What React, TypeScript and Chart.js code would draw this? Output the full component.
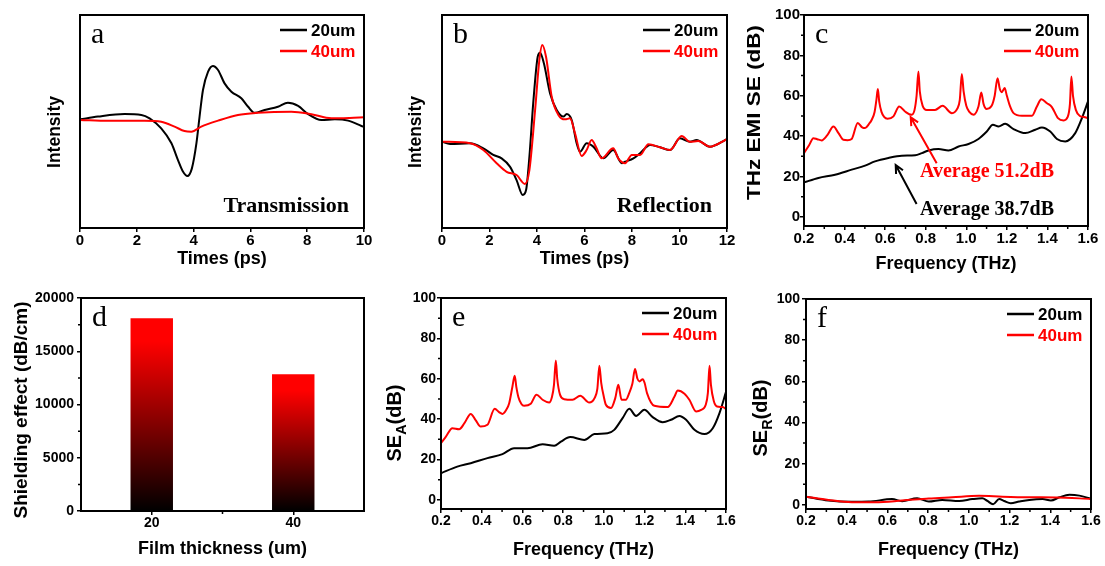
import React, { useEffect, useRef } from "react";
import { Chart, registerables } from "chart.js";

Chart.register(...registerables);

const SANS = '"Liberation Sans", Arial, Helvetica, sans-serif';
const SERIF = '"Liberation Serif", "Times New Roman", Times, serif';
const RED = "#ff0000";
const BLACK = "#000000";

const SERIES_LABELS = ["20um", "40um"];

// ---------- (a) Transmission, time-domain ----------
const A_T20 = [0, 0.63, 1.57, 2.16, 2.45, 2.86, 3.22, 3.45, 3.63, 3.78, 3.94, 4.1, 4.21, 4.33, 4.51, 4.68, 4.86, 5.09, 5.33, 5.68, 5.92, 6.15, 6.5, 6.97, 7.32, 7.68, 8.03, 8.5, 8.97, 9.44, 9.91, 10];
const A_I20 = [51.0, 52.3, 53.5, 53.1, 51.5, 46.8, 39.8, 31.9, 26.4, 24.4, 28.0, 39.8, 52.3, 64.8, 73.4, 76.1, 74.2, 67.9, 64.0, 60.9, 56.9, 54.1, 55.4, 56.9, 58.8, 57.3, 53.5, 50.7, 51.0, 50.4, 47.9, 47.4];
const A_T40 = [0, 1.0, 2.28, 2.86, 3.33, 3.68, 3.92, 4.27, 4.86, 5.56, 6.27, 7.44, 8.15, 8.85, 9.5, 10];
const A_I40 = [50.7, 50.3, 50.4, 49.9, 47.6, 45.5, 45.2, 47.6, 50.4, 53.1, 54.1, 54.6, 53.4, 51.5, 51.7, 52.0];

// ---------- (b) Reflection, time-domain ----------
const B_T20 = [0, 0.34, 1.18, 1.74, 2.16, 2.51, 2.86, 3.14, 3.4, 3.54, 3.68, 3.84, 4.03, 4.13, 4.29, 4.55, 4.83, 5.11, 5.25, 5.46, 5.67, 5.81, 6.09, 6.37, 6.79, 7.21, 7.57, 7.71, 8.06, 8.34, 8.76, 9.18, 9.6, 10.02, 10.44, 10.72, 11.28, 11.92, 12];
const B_I20 = [40.5, 39.4, 39.8, 37.4, 34.3, 32.7, 28.8, 22.5, 15.5, 17.8, 33.5, 58.5, 80.4, 82.3, 77.3, 63.2, 55.4, 52.3, 53.5, 50.7, 39.8, 35.8, 39.8, 38.2, 32.7, 36.6, 30.4, 31.1, 32.7, 35.1, 39.0, 37.9, 36.6, 42.1, 40.5, 41.3, 38.2, 41.3, 41.8];
const B_T40 = [0, 1.18, 1.74, 2.3, 2.72, 3.14, 3.49, 3.68, 3.92, 4.1, 4.22, 4.38, 4.62, 4.9, 5.18, 5.39, 5.6, 5.88, 6.09, 6.3, 6.51, 6.72, 7.21, 7.42, 7.71, 7.99, 8.34, 8.69, 9.18, 9.6, 10.09, 10.44, 10.79, 11.28, 11.92, 12];
const B_I40 = [40.5, 39.8, 36.6, 30.4, 26.4, 24.9, 20.7, 27.2, 55.4, 78.9, 85.9, 80.4, 61.6, 53.1, 51.0, 51.5, 44.5, 33.8, 36.6, 41.3, 37.4, 32.7, 37.4, 32.7, 30.4, 34.3, 34.3, 39.3, 37.9, 36.6, 43.2, 40.5, 40.8, 38.2, 41.3, 41.8];

// ---------- (c) THz EMI SE ----------
const C_F20 = [0.2, 0.271, 0.353, 0.435, 0.501, 0.55, 0.616, 0.682, 0.748, 0.781, 0.814, 0.863, 0.912, 0.962, 1.011, 1.06, 1.101, 1.131, 1.159, 1.192, 1.233, 1.291, 1.34, 1.373, 1.414, 1.447, 1.488, 1.537, 1.57, 1.6];
const C_SE20 = [17.1, 19.3, 20.9, 23.4, 25.4, 27.5, 29.2, 30.3, 30.5, 31.6, 32.9, 33.6, 32.9, 34.9, 36.1, 38.6, 42.3, 45.6, 44.8, 46.1, 43.5, 41.5, 43.2, 44.3, 42.3, 38.6, 37.4, 41.5, 48.9, 57.2];
const C_F40 = [0.2, 0.225, 0.246, 0.265, 0.287, 0.315, 0.345, 0.37, 0.394, 0.415, 0.435, 0.465, 0.485, 0.501, 0.52, 0.534, 0.548, 0.557, 0.564, 0.571, 0.582, 0.595, 0.612, 0.641, 0.669, 0.698, 0.731, 0.745, 0.755, 0.764, 0.771, 0.785, 0.805, 0.846, 0.883, 0.929, 0.955, 0.968, 0.978, 0.987, 1.0, 1.015, 1.036, 1.06, 1.074, 1.085, 1.1, 1.125, 1.14, 1.154, 1.165, 1.175, 1.189, 1.2, 1.215, 1.233, 1.274, 1.324, 1.348, 1.37, 1.398, 1.422, 1.452, 1.48, 1.5, 1.511, 1.518, 1.526, 1.54, 1.56, 1.58, 1.6];
const C_SE40 = [31.6, 35.5, 39.0, 38.5, 37.9, 40.5, 44.8, 41.5, 38.2, 38.0, 38.6, 46.5, 44.5, 44.0, 46.0, 48.1, 52.0, 58.0, 63.3, 57.0, 52.0, 49.5, 48.6, 49.8, 54.7, 52.2, 50.6, 53.0, 60.0, 72.0, 62.0, 55.0, 53.0, 53.0, 55.0, 51.4, 53.5, 58.0, 70.8, 62.0, 55.0, 52.0, 50.6, 54.7, 61.6, 56.0, 53.5, 55.0, 60.0, 68.7, 63.5, 61.8, 63.8, 60.0, 55.0, 51.4, 50.1, 50.1, 54.7, 58.3, 56.3, 54.4, 48.9, 47.8, 49.5, 56.0, 69.5, 60.0, 53.0, 50.0, 49.5, 48.9];
const C_NOTES = [
  { text: "Average 51.2dB", x: 0.772, y: 20, color: RED },
  { text: "Average 38.7dB", x: 0.772, y: 1, color: BLACK },
];
const C_ARROWS: { from: [number, number]; to: [number, number]; color: string }[] = [
  { from: [0.854, 26.6], to: [0.726, 49.4], color: RED },
  { from: [0.755, 6.4], to: [0.652, 25.7], color: BLACK },
];

// ---------- (d) Shielding effectiveness per thickness ----------
const D_THICKNESS = ["20", "40"];
const D_SHIELDING = [18100, 12850];

// ---------- (e) SE_A ----------
const E_F20 = [0.2, 0.28, 0.346, 0.428, 0.502, 0.559, 0.625, 0.699, 0.756, 0.789, 0.835, 0.904, 0.953, 1.018, 1.051, 1.092, 1.125, 1.158, 1.199, 1.24, 1.289, 1.33, 1.371, 1.404, 1.445, 1.494, 1.535, 1.568, 1.6];
const E_A20 = [13.2, 16.5, 18.2, 20.7, 22.7, 25.6, 25.6, 27.6, 26.8, 28.9, 31.1, 29.7, 32.6, 33.0, 34.7, 40.5, 45.1, 41.6, 44.6, 41.0, 38.5, 39.7, 41.6, 39.7, 34.7, 32.6, 35.5, 43.0, 53.5];
const E_F40 = [0.2, 0.225, 0.256, 0.289, 0.315, 0.346, 0.37, 0.395, 0.428, 0.464, 0.485, 0.502, 0.52, 0.535, 0.551, 0.562, 0.57, 0.58, 0.595, 0.608, 0.641, 0.669, 0.699, 0.731, 0.745, 0.755, 0.764, 0.771, 0.785, 0.805, 0.846, 0.884, 0.928, 0.955, 0.968, 0.978, 0.987, 1.0, 1.01, 1.035, 1.056, 1.071, 1.087, 1.108, 1.125, 1.14, 1.153, 1.165, 1.175, 1.191, 1.2, 1.212, 1.248, 1.314, 1.347, 1.363, 1.396, 1.42, 1.453, 1.478, 1.5, 1.511, 1.519, 1.526, 1.54, 1.556, 1.584, 1.6];
const E_A40 = [28.1, 31.5, 35.5, 35.0, 38.0, 42.6, 39.5, 36.3, 37.2, 45.1, 43.5, 42.6, 44.5, 47.9, 56.2, 61.5, 56.0, 51.0, 47.5, 46.6, 47.6, 52.1, 49.6, 48.2, 51.0, 57.0, 69.1, 60.0, 52.0, 49.9, 49.6, 51.6, 48.2, 50.5, 55.0, 66.4, 58.0, 51.0, 47.1, 45.5, 50.4, 57.0, 49.6, 49.6, 53.0, 57.5, 64.8, 60.0, 58.7, 59.8, 58.0, 52.9, 46.6, 46.0, 51.2, 54.2, 52.6, 49.6, 43.8, 44.6, 47.0, 53.0, 66.4, 57.0, 49.0, 46.3, 46.0, 45.0];

// ---------- (f) SE_R ----------
const F_F20 = [0.2, 0.31, 0.425, 0.508, 0.623, 0.672, 0.746, 0.803, 0.869, 0.952, 1.017, 1.066, 1.091, 1.119, 1.149, 1.173, 1.206, 1.247, 1.297, 1.362, 1.403, 1.445, 1.494, 1.543, 1.6];
const F_R20 = [4.0, 2.1, 1.5, 1.6, 2.8, 1.8, 3.2, 1.6, 2.4, 1.9, 2.8, 3.2, 1.9, 0.3, 2.8, 1.9, 0.8, 1.6, 2.4, 2.8, 2.1, 3.7, 4.9, 4.5, 3.0];
const F_F40 = [0.2, 0.31, 0.425, 0.54, 0.672, 0.803, 0.918, 1.05, 1.165, 1.297, 1.428, 1.6];
const F_R40 = [4.0, 2.4, 1.3, 1.3, 2.1, 3.1, 3.7, 4.4, 4.0, 3.7, 3.6, 2.9];

// minor tick positions
const FREQ_MINOR = [0.3, 0.5, 0.7, 0.9, 1.1, 1.3, 1.5];
const DB_MINOR = [10, 30, 50, 70, 90];
const D_MINOR_Y = [2500, 7500, 12500, 17500];
const D_MINOR_X = [0.5];

type Part = { text: string; sub?: boolean };
interface Deco {
  letter: string;
  xTitle: string;
  xTitleY: number;
  yTitle: Part[];
  yTitleX: number;
  yTitleY: number;
  yTitleSize: number;
  yTitleLen?: number;
  legend: boolean;
  xMinor?: number[];
  yMinor?: number[];
  corner?: string;
  notes?: { text: string; x: number; y: number; color: string }[];
  arrows?: { from: [number, number]; to: [number, number]; color: string }[];
}

function drawYTitle(ctx: CanvasRenderingContext2D, d: Deco) {
  const size = d.yTitleSize;
  const sub = size * 0.72;
  ctx.save();
  ctx.translate(d.yTitleX, d.yTitleY);
  ctx.rotate(-Math.PI / 2);
  const widths = d.yTitle.map((p) => {
    ctx.font = `bold ${p.sub ? sub : size}px ${SANS}`;
    return ctx.measureText(p.text).width;
  });
  const total = widths.reduce((s, w) => s + w, 0);
  if (d.yTitleLen) ctx.scale(d.yTitleLen / total, 1);
  let x = -total / 2;
  ctx.fillStyle = BLACK;
  ctx.textAlign = "left";
  ctx.textBaseline = "alphabetic";
  d.yTitle.forEach((p, i) => {
    ctx.font = `bold ${p.sub ? sub : size}px ${SANS}`;
    ctx.fillText(p.text, x, p.sub ? size * 0.36 + size * 0.22 : size * 0.36);
    x += widths[i];
  });
  ctx.restore();
}

function decoPlugin(d: Deco) {
  return {
    id: "deco",
    afterDraw(chart: any) {
      const ctx = chart.ctx as CanvasRenderingContext2D;
      const a = chart.chartArea;
      const sx = chart.scales.x;
      const sy = chart.scales.y;
      ctx.save();
      ctx.strokeStyle = BLACK;
      ctx.fillStyle = BLACK;
      ctx.lineWidth = 2;
      ctx.strokeRect(a.left, a.top, a.right - a.left, a.bottom - a.top);
      ctx.lineWidth = 1.5;
      ctx.beginPath();
      (d.xMinor || []).forEach((v) => {
        const p = sx.getPixelForValue(v);
        ctx.moveTo(p, a.bottom);
        ctx.lineTo(p, a.bottom + 3);
      });
      (d.yMinor || []).forEach((v) => {
        const p = sy.getPixelForValue(v);
        ctx.moveTo(a.left - 3, p);
        ctx.lineTo(a.left, p);
      });
      ctx.stroke();

      // panel letter
      ctx.font = `30px ${SERIF}`;
      ctx.textAlign = "left";
      ctx.textBaseline = "alphabetic";
      ctx.fillText(d.letter, a.left + 11, a.top + 28);

      // legend
      if (d.legend) {
        chart.data.datasets.forEach((ds: any, i: number) => {
          const y = a.top + 15 + i * 21;
          ctx.strokeStyle = ds.borderColor;
          ctx.lineWidth = 2.5;
          ctx.beginPath();
          ctx.moveTo(a.right - 84, y);
          ctx.lineTo(a.right - 57, y);
          ctx.stroke();
          ctx.fillStyle = ds.borderColor;
          ctx.font = `bold 17px ${SANS}`;
          ctx.textAlign = "left";
          ctx.textBaseline = "middle";
          ctx.fillText(ds.label, a.right - 53, y + 1);
        });
      }

      // x title
      ctx.fillStyle = BLACK;
      ctx.font = `bold 18px ${SANS}`;
      ctx.textAlign = "center";
      ctx.textBaseline = "middle";
      ctx.fillText(d.xTitle, (a.left + a.right) / 2, d.xTitleY);

      drawYTitle(ctx, d);

      if (d.corner) {
        ctx.fillStyle = BLACK;
        ctx.font = `bold 22px ${SERIF}`;
        ctx.textAlign = "right";
        ctx.textBaseline = "alphabetic";
        ctx.fillText(d.corner, a.right - 15, a.bottom - 16);
      }

      (d.arrows || []).forEach((ar) => {
        const x1 = sx.getPixelForValue(ar.from[0]);
        const y1 = sy.getPixelForValue(ar.from[1]);
        const x2 = sx.getPixelForValue(ar.to[0]);
        const y2 = sy.getPixelForValue(ar.to[1]);
        const ang = Math.atan2(y2 - y1, x2 - x1);
        ctx.strokeStyle = ar.color;
        ctx.lineWidth = 2;
        ctx.beginPath();
        ctx.moveTo(x1, y1);
        ctx.lineTo(x2, y2);
        const L = 9;
        ctx.moveTo(x2 - L * Math.cos(ang - 0.45), y2 - L * Math.sin(ang - 0.45));
        ctx.lineTo(x2, y2);
        ctx.lineTo(x2 - L * Math.cos(ang + 0.45), y2 - L * Math.sin(ang + 0.45));
        ctx.stroke();
      });

      (d.notes || []).forEach((n) => {
        ctx.fillStyle = n.color;
        ctx.font = `bold 20px ${SERIF}`;
        ctx.textAlign = "left";
        ctx.textBaseline = "alphabetic";
        ctx.fillText(n.text, sx.getPixelForValue(n.x), sy.getPixelForValue(n.y));
      });
      ctx.restore();
    },
  };
}

const zip = (xs: number[], ys: number[]) => xs.map((x, i) => ({ x, y: ys[i] }));
const tickFont = (size: number) => ({ family: SANS, size, weight: "bold" as const });
const gridTicks = {
  display: true,
  drawOnChartArea: false,
  drawTicks: true,
  tickLength: 4,
  color: BLACK,
  lineWidth: 1.5,
};
const noPad = (s: any) => {
  s.paddingLeft = 0;
  s.paddingRight = 0;
  s.paddingTop = 0;
  s.paddingBottom = 0;
};

interface LineOpts {
  sets: { xs: number[]; ys: number[]; color: string; label: string }[];
  xMin: number;
  xMax: number;
  xStep: number;
  xFmt?: (v: number) => string;
  yMin: number;
  yMax: number;
  yStep?: number;
  yShow: boolean;
  yPad?: number;
  padTop: number;
  padRight: number;
  yW: number;
  xH: number;
  tickSize: number;
  deco: Deco;
}

function lineConfig(o: LineOpts): any {
  return {
    type: "line",
    data: {
      datasets: o.sets.map((s, i) => ({
        label: s.label,
        data: zip(s.xs, s.ys),
        borderColor: s.color,
        backgroundColor: s.color,
        borderWidth: 2,
        pointRadius: 0,
        cubicInterpolationMode: "monotone",
        fill: false,
        order: o.sets.length - i,
      })),
    },
    options: {
      responsive: false,
      animation: false,
      devicePixelRatio: 1,
      events: [],
      layout: { padding: { top: o.padTop, right: o.padRight, left: 0, bottom: 0 } },
      plugins: { legend: { display: false }, tooltip: { enabled: false } },
      scales: {
        x: {
          type: "linear",
          min: o.xMin,
          max: o.xMax,
          afterFit: (s: any) => {
            s.height = o.xH;
            noPad(s);
          },
          border: { display: false },
          grid: gridTicks,
          ticks: {
            stepSize: o.xStep,
            font: tickFont(o.tickSize),
            color: BLACK,
            padding: 0,
            maxRotation: 0,
            autoSkip: false,
            callback: (v: any) => (o.xFmt ? o.xFmt(Number(v)) : String(v)),
          },
        },
        y: {
          type: "linear",
          min: o.yMin,
          max: o.yMax,
          afterFit: (s: any) => {
            s.width = o.yW;
            noPad(s);
          },
          border: { display: false },
          grid: o.yShow ? gridTicks : { display: false, drawTicks: false },
          ticks: o.yShow
            ? {
                stepSize: o.yStep,
                includeBounds: false,
                font: tickFont(o.tickSize),
                color: BLACK,
                padding: o.yPad ?? 0,
                autoSkip: false,
                callback: (v: any) => String(v),
              }
            : { display: false },
        },
      },
    },
    plugins: [decoPlugin(o.deco)],
  };
}

const fmt1 = (v: number) => v.toFixed(1);

const configA = () =>
  lineConfig({
    sets: [
      { xs: A_T20, ys: A_I20, color: BLACK, label: SERIES_LABELS[0] },
      { xs: A_T40, ys: A_I40, color: RED, label: SERIES_LABELS[1] },
    ],
    xMin: 0, xMax: 10, xStep: 2,
    yMin: 0, yMax: 100, yShow: false,
    padTop: 15, padRight: 16, yW: 80, xH: 55, tickSize: 15,
    deco: {
      letter: "a", xTitle: "Times (ps)", xTitleY: 259,
      yTitle: [{ text: "Intensity" }], yTitleX: 54, yTitleY: 132, yTitleSize: 17.5,
      legend: true, corner: "Transmission",
    },
  });

const configB = () =>
  lineConfig({
    sets: [
      { xs: B_T20, ys: B_I20, color: BLACK, label: SERIES_LABELS[0] },
      { xs: B_T40, ys: B_I40, color: RED, label: SERIES_LABELS[1] },
    ],
    xMin: 0, xMax: 12, xStep: 2,
    yMin: 0, yMax: 100, yShow: false,
    padTop: 15, padRight: 18, yW: 72, xH: 55, tickSize: 15,
    deco: {
      letter: "b", xTitle: "Times (ps)", xTitleY: 259,
      yTitle: [{ text: "Intensity" }], yTitleX: 45, yTitleY: 132, yTitleSize: 17.5,
      legend: true, corner: "Reflection",
    },
  });

const configC = () =>
  lineConfig({
    sets: [
      { xs: C_F20, ys: C_SE20, color: BLACK, label: SERIES_LABELS[0] },
      { xs: C_F40, ys: C_SE40, color: RED, label: SERIES_LABELS[1] },
    ],
    xMin: 0.2, xMax: 1.6, xStep: 0.2, xFmt: fmt1,
    yMin: -4.5, yMax: 100, yStep: 20, yShow: true, yPad: 0,
    padTop: 15, padRight: 17, yW: 69, xH: 57, tickSize: 15,
    deco: {
      letter: "c", xTitle: "Frequency (THz)", xTitleY: 264,
      yTitle: [{ text: "THz EMI SE (dB)" }], yTitleX: 18.5, yTitleY: 112.5, yTitleSize: 19, yTitleLen: 175,
      legend: true, xMinor: FREQ_MINOR, yMinor: DB_MINOR,
      notes: C_NOTES, arrows: C_ARROWS,
    },
  });

const configE = () =>
  lineConfig({
    sets: [
      { xs: E_F20, ys: E_A20, color: BLACK, label: SERIES_LABELS[0] },
      { xs: E_F40, ys: E_A40, color: RED, label: SERIES_LABELS[1] },
    ],
    xMin: 0.2, xMax: 1.6, xStep: 0.2, xFmt: fmt1,
    yMin: -4.5, yMax: 100, yStep: 20, yShow: true, yPad: 1,
    padTop: 15, padRight: 19, yW: 71, xH: 57, tickSize: 14,
    deco: {
      letter: "e", xTitle: "Frequency (THz)", xTitleY: 267,
      yTitle: [{ text: "SE" }, { text: "A", sub: true }, { text: "(dB)" }], yTitleX: 24, yTitleY: 140, yTitleSize: 20,
      legend: true, xMinor: FREQ_MINOR, yMinor: DB_MINOR,
    },
  });

const configF = () =>
  lineConfig({
    sets: [
      { xs: F_F20, ys: F_R20, color: BLACK, label: SERIES_LABELS[0] },
      { xs: F_F40, ys: F_R40, color: RED, label: SERIES_LABELS[1] },
    ],
    xMin: 0.2, xMax: 1.6, xStep: 0.2, xFmt: fmt1,
    yMin: -2, yMax: 100, yStep: 20, yShow: true, yPad: 2,
    padTop: 16, padRight: 14, yW: 71, xH: 57, tickSize: 14,
    deco: {
      letter: "f", xTitle: "Frequency (THz)", xTitleY: 267,
      yTitle: [{ text: "SE" }, { text: "R", sub: true }, { text: "(dB)" }], yTitleX: 25, yTitleY: 135, yTitleSize: 20,
      legend: true, xMinor: FREQ_MINOR, yMinor: DB_MINOR,
    },
  });

const configD = (): any => ({
  type: "bar",
  data: {
    labels: D_THICKNESS,
    datasets: [
      {
        label: "Shielding effect",
        data: D_SHIELDING,
        borderWidth: 0,
        barPercentage: 0.3,
        categoryPercentage: 1,
        backgroundColor: (c: any) => {
          const chart = c.chart;
          const ys = chart.scales && chart.scales.y;
          if (!ys || c.type !== "data" || !chart.chartArea) return RED;
          const top = ys.getPixelForValue(c.raw);
          const bot = ys.getPixelForValue(0);
          const g = chart.ctx.createLinearGradient(0, top, 0, bot);
          g.addColorStop(0, "#ff0000");
          g.addColorStop(0.12, "#ff0000");
          g.addColorStop(1, "#000000");
          return g;
        },
      },
    ],
  },
  options: {
    responsive: false,
    animation: false,
    devicePixelRatio: 1,
    events: [],
    layout: { padding: { top: 15, right: 6, left: 0, bottom: 0 } },
    plugins: { legend: { display: false }, tooltip: { enabled: false } },
    scales: {
      x: {
        type: "category",
        offset: true,
        afterFit: (s: any) => {
          s.height = 55;
          noPad(s);
        },
        border: { display: false },
        grid: { ...gridTicks, offset: false },
        ticks: { font: tickFont(14), color: BLACK, padding: 0, maxRotation: 0 },
      },
      y: {
        type: "linear",
        min: 0,
        max: 20000,
        afterFit: (s: any) => {
          s.width = 81;
          noPad(s);
        },
        border: { display: false },
        grid: gridTicks,
        ticks: {
          stepSize: 5000,
          font: tickFont(14),
          color: BLACK,
          padding: 3,
          autoSkip: false,
          callback: (v: any) => String(v),
        },
      },
    },
  },
  plugins: [
    decoPlugin({
      letter: "d", xTitle: "Film thickness (um)", xTitleY: 266,
      yTitle: [{ text: "Shielding effect (dB/cm)" }], yTitleX: 21, yTitleY: 127, yTitleSize: 18, yTitleLen: 217,
      legend: false, xMinor: D_MINOR_X, yMinor: D_MINOR_Y,
    }),
  ],
});

const PANELS = [
  { key: "a", left: 0, top: 0, w: 380, h: 283, make: configA },
  { key: "b", left: 370, top: 0, w: 375, h: 283, make: configB },
  { key: "c", left: 735, top: 0, w: 370, h: 283, make: configC },
  { key: "d", left: 0, top: 283, w: 370, h: 283, make: configD },
  { key: "e", left: 370, top: 283, w: 375, h: 283, make: configE },
  { key: "f", left: 735, top: 283, w: 370, h: 283, make: configF },
];

function PanelCanvas(p: { left: number; top: number; w: number; h: number; make: () => any }) {
  const ref = useRef<HTMLCanvasElement>(null);
  useEffect(() => {
    if (!ref.current) return;
    const chart = new Chart(ref.current, p.make());
    return () => chart.destroy();
  }, []);
  return (
    <canvas
      ref={ref}
      width={p.w}
      height={p.h}
      style={{ position: "absolute", left: p.left, top: p.top, width: p.w, height: p.h }}
    />
  );
}

export default function App() {
  return (
    <div style={{ position: "absolute", left: 0, top: 0, width: 1105, height: 566, background: "#fff", overflow: "hidden" }}>
      {PANELS.map((p) => (
        <PanelCanvas key={p.key} left={p.left} top={p.top} w={p.w} h={p.h} make={p.make} />
      ))}
    </div>
  );
}
